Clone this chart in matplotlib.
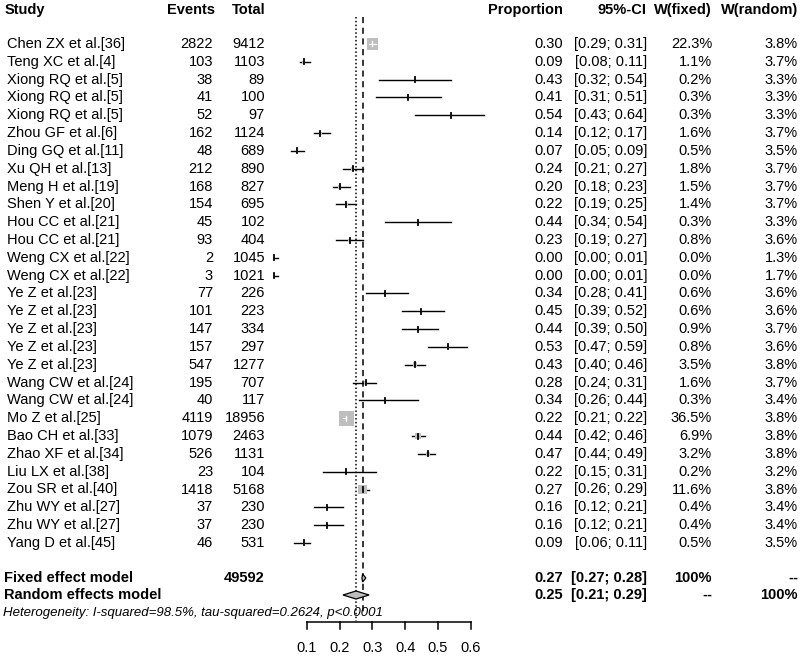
import matplotlib
matplotlib.use("Agg")
import matplotlib.pyplot as plt
from matplotlib.patches import Rectangle, Polygon

plt.rcParams['font.family'] = ['Liberation Sans', 'DejaVu Sans']

studies = ["Chen ZX et al.[36]", "Teng XC et al.[4]", "Xiong RQ et al.[5]", "Xiong RQ et al.[5]",
           "Xiong RQ et al.[5]", "Zhou GF et al.[6]", "Ding GQ et al.[11]", "Xu QH et al.[13]",
           "Meng H et al.[19]", "Shen Y et al.[20]", "Hou CC et al.[21]", "Hou CC et al.[21]",
           "Weng CX et al.[22]", "Weng CX et al.[22]", "Ye Z et al.[23]", "Ye Z et al.[23]",
           "Ye Z et al.[23]", "Ye Z et al.[23]", "Ye Z et al.[23]", "Wang CW et al.[24]",
           "Wang CW et al.[24]", "Mo Z et al.[25]", "Bao CH et al.[33]", "Zhao XF et al.[34]",
           "Liu LX et al.[38]", "Zou SR et al.[40]", "Zhu WY et al.[27]", "Zhu WY et al.[27]",
           "Yang D et al.[45]"]
events = [2822, 103, 38, 41, 52, 162, 48, 212, 168, 154, 45, 93, 2, 3, 77, 101, 147, 157, 547,
          195, 40, 4119, 1079, 526, 23, 1418, 37, 37, 46]
totals = [9412, 1103, 89, 100, 97, 1124, 689, 890, 827, 695, 102, 404, 1045, 1021, 226, 223, 334,
          297, 1277, 707, 117, 18956, 2463, 1131, 104, 5168, 230, 230, 531]
prop = [0.30, 0.09, 0.43, 0.41, 0.54, 0.14, 0.07, 0.24, 0.20, 0.22, 0.44, 0.23, 0.00, 0.00, 0.34,
        0.45, 0.44, 0.53, 0.43, 0.28, 0.34, 0.22, 0.44, 0.47, 0.22, 0.27, 0.16, 0.16, 0.09]
lower = [0.29, 0.08, 0.32, 0.31, 0.43, 0.12, 0.05, 0.21, 0.18, 0.19, 0.34, 0.19, 0.00, 0.00, 0.28,
         0.39, 0.39, 0.47, 0.40, 0.24, 0.26, 0.21, 0.42, 0.44, 0.15, 0.26, 0.12, 0.12, 0.06]
upper = [0.31, 0.11, 0.54, 0.51, 0.64, 0.17, 0.09, 0.27, 0.23, 0.25, 0.54, 0.27, 0.01, 0.01, 0.41,
         0.52, 0.50, 0.59, 0.46, 0.31, 0.44, 0.22, 0.46, 0.49, 0.31, 0.29, 0.21, 0.21, 0.11]
w_fixed = [22.3, 1.1, 0.2, 0.3, 0.3, 1.6, 0.5, 1.8, 1.5, 1.4, 0.3, 0.8, 0.0, 0.0, 0.6, 0.6, 0.9,
           0.8, 3.5, 1.6, 0.3, 36.5, 6.9, 3.2, 0.2, 11.6, 0.4, 0.4, 0.5]
w_random = [3.8, 3.7, 3.3, 3.3, 3.3, 3.7, 3.5, 3.7, 3.7, 3.7, 3.3, 3.6, 1.3, 1.7, 3.6, 3.6, 3.7,
            3.6, 3.8, 3.7, 3.4, 3.8, 3.8, 3.8, 3.2, 3.8, 3.4, 3.4, 3.5]

fixed_est, fixed_lo, fixed_hi, fixed_n = 0.27, 0.27, 0.28, 49592
rand_est, rand_lo, rand_hi = 0.25, 0.21, 0.29
ticks = [0.1, 0.2, 0.3, 0.4, 0.5, 0.6]
het_text = "Heterogeneity: I-squared=98.5%, tau-squared=0.2624, p<0.0001"

# layout: pixel mapping of the original plot
W, H = 800, 662
X0, PX = 307, 327.0      # pixel of 0.1, pixels per 1.0
Y0, PY = 44, 17.82       # pixel of first row, pixels per row


def px(x):
    return 0.1 + (x - X0) / PX


def py(y):
    return (y - Y0) / PY


fig = plt.figure(figsize=(W / 100, H / 100), dpi=100)
ax = fig.add_axes([0, 0, 1, 1])
ax.set_xlim(px(0), px(W))
ax.set_ylim(py(H), py(0))
ax.axis("off")

fs = 10.5
n = len(studies)
grey = "#bebebe"

# header
hy = py(10)
ax.text(px(5), hy, "Study", fontsize=fs, fontweight="bold", ha="left", va="center")
for xp, lab in [(215, "Events"), (265, "Total"), (563, "Proportion"), (647, "95%-CI"),
                (712, "W(fixed)"), (798, "W(random)")]:
    ax.text(px(xp), hy, lab, fontsize=fs, fontweight="bold", ha="right", va="center")

# reference lines
ax.plot([fixed_est, fixed_est], [py(17), py(616)], color="black", lw=1.1, ls=(0, (4, 3)))
ax.plot([rand_est, rand_est], [py(17), py(621)], color="black", lw=1.1, ls=(0, (1, 1.5)))

sq_k = 2.45  # pixels per sqrt(weight %)
for i in range(n):
    ax.text(px(7), i, studies[i], fontsize=fs, ha="left", va="center")
    ax.text(px(213), i, str(events[i]), fontsize=fs, ha="right", va="center")
    ax.text(px(265), i, str(totals[i]), fontsize=fs, ha="right", va="center")
    ax.text(px(563), i, f"{prop[i]:.2f}", fontsize=fs, ha="right", va="center")
    ax.text(px(647), i, f"[{lower[i]:.2f}; {upper[i]:.2f}]", fontsize=fs, ha="right", va="center")
    ax.text(px(712), i, f"{w_fixed[i]:.1f}%", fontsize=fs, ha="right", va="center")
    ax.text(px(798), i, f"{w_random[i]:.1f}%", fontsize=fs, ha="right", va="center")

    side = sq_k * w_fixed[i] ** 0.5
    sw, sh = side / PX, side / PY
    inside = (upper[i] - lower[i]) < sw
    if not inside:
        ax.plot([lower[i], upper[i]], [i, i], color="black", lw=1.0)
    ax.add_patch(Rectangle((prop[i] - sw / 2, i - sh / 2), sw, sh, facecolor=grey,
                           edgecolor="none", zorder=3))
    if inside:
        ax.plot([lower[i], upper[i]], [i, i], color="white", lw=0.9, zorder=4)
        ax.plot([prop[i], prop[i]], [i - 2.5 / PY, i + 2.5 / PY], color="white", lw=0.9, zorder=4)
    else:
        ax.plot([prop[i], prop[i]], [i - 2.5 / PY, i + 2.5 / PY], color="black", lw=1.3, zorder=4)

# summary rows
fy, ry = py(578), py(595)
ax.text(px(4), fy, "Fixed effect model", fontsize=fs, fontweight="bold", ha="left", va="center")
ax.text(px(265), fy, str(fixed_n), fontsize=fs, fontweight="bold", ha="right", va="center")
ax.text(px(563), fy, f"{fixed_est:.2f}", fontsize=fs, fontweight="bold", ha="right", va="center")
ax.text(px(647), fy, f"[{fixed_lo:.2f}; {fixed_hi:.2f}]", fontsize=fs, fontweight="bold",
        ha="right", va="center")
ax.text(px(712), fy, "100%", fontsize=fs, fontweight="bold", ha="right", va="center")
ax.text(px(798), fy, "--", fontsize=fs, fontweight="bold", ha="right", va="center")

ax.text(px(4), ry, "Random effects model", fontsize=fs, fontweight="bold", ha="left", va="center")
ax.text(px(563), ry, f"{rand_est:.2f}", fontsize=fs, fontweight="bold", ha="right", va="center")
ax.text(px(647), ry, f"[{rand_lo:.2f}; {rand_hi:.2f}]", fontsize=fs, fontweight="bold",
        ha="right", va="center")
ax.text(px(712), ry, "--", fontsize=fs, fontweight="bold", ha="right", va="center")
ax.text(px(798), ry, "100%", fontsize=fs, fontweight="bold", ha="right", va="center")

dh = 4.0 / PY
ax.add_patch(Polygon([(fixed_lo - 0.002, fy), (fixed_est, fy - dh), (fixed_hi, fy), (fixed_est, fy + dh)],
                     closed=True, facecolor=grey, edgecolor="black", lw=0.9, zorder=4))
ax.add_patch(Polygon([(rand_lo, ry), (rand_est, ry - dh), (rand_hi, ry), (rand_est, ry + dh)],
                     closed=True, facecolor=grey, edgecolor="black", lw=0.9, zorder=4))

ax.text(px(3), py(613), het_text, fontsize=9.5, fontstyle="italic", ha="left", va="center")

# x axis
ay = py(622)
ax.plot([ticks[0], ticks[-1]], [ay, ay], color="black", lw=1.1)
for t in ticks:
    ax.plot([t, t], [ay, py(629)], color="black", lw=1.1)
    ax.text(t, py(648), f"{t:.1f}", fontsize=fs, ha="center", va="center")

fig.savefig("out.png", dpi=100)
